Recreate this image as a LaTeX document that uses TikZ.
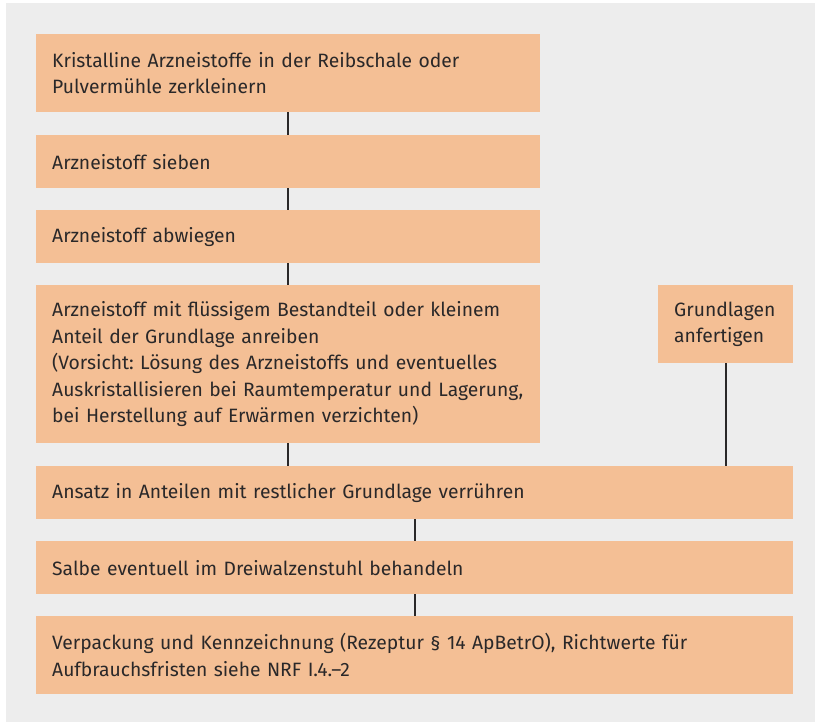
\documentclass[tikz,border=0pt]{standalone}
\usepackage{fontspec}
\setmainfont{Fira Sans}
\frenchspacing
\definecolor{bggray}{HTML}{EDEDED}
\definecolor{boxfill}{HTML}{F4BF95}
\definecolor{ink}{HTML}{2A2829}
\begin{document}
\begin{tikzpicture}[x=1pt,y=-1pt,
  stepbox/.style={rectangle, fill=boxfill, anchor=north west, align=left,
    inner xsep=16pt, inner ysep=0pt, text=ink,
    font=\fontsize{19.3}{26.6}\selectfont\frenchspacing},
  conn/.style={draw=ink, line width=2pt}]
\useasboundingbox (0,0) rectangle (815,722);
\fill[bggray] (6,3) rectangle (815,722);
\node[stepbox, text width=472pt, minimum height=78pt] (b1) at (36,34)
  {Kristalline Arzneistoffe in der Reibschale oder\\Pulvermühle zerkleinern};
\node[stepbox, text width=472pt, minimum height=53pt] (b2) at (36,135)
  {Arzneistoff sieben};
\node[stepbox, text width=472pt, minimum height=53pt] (b3) at (36,210)
  {Arzneistoff abwiegen};
\node[stepbox, text width=472pt, minimum height=158pt] (b4) at (36,285)
  {Arzneistoff mit flüssigem Bestandteil oder kleinem\\Anteil der Grundlage anreiben\\(Vorsicht: Lösung des Arzneistoffs und eventuelles\\Auskristallisieren bei Raumtemperatur und Lagerung,\\bei Herstellung auf Erwärmen verzichten)};
\node[stepbox, text width=103pt, minimum height=78pt] (g) at (658,285)
  {Grundlagen\\anfertigen};
\node[stepbox, text width=725pt, minimum height=53pt] (b5) at (36,466)
  {Ansatz in Anteilen mit restlicher Grundlage verrühren};
\node[stepbox, text width=725pt, minimum height=53pt] (b6) at (36,541)
  {Salbe eventuell im Dreiwalzenstuhl behandeln};
\node[stepbox, text width=725pt, minimum height=78pt] (b7) at (36,616)
  {Verpackung und Kennzeichnung (Rezeptur § 14 ApBetrO), Richtwerte für\\Aufbrauchsfristen siehe NRF I.4.--2};
\draw[conn] (b1.south) -- (b2.north);
\draw[conn] (b2.south) -- (b3.north);
\draw[conn] (b3.south) -- (b4.north);
\draw[conn] (b4.south) -- (b4.south |- b5.north);
\draw[conn] (g.south) -- (g.south |- b5.north);
\draw[conn] (b5.south) -- (b6.north);
\draw[conn] (b6.south) -- (b7.north);
\end{tikzpicture}
\end{document}
